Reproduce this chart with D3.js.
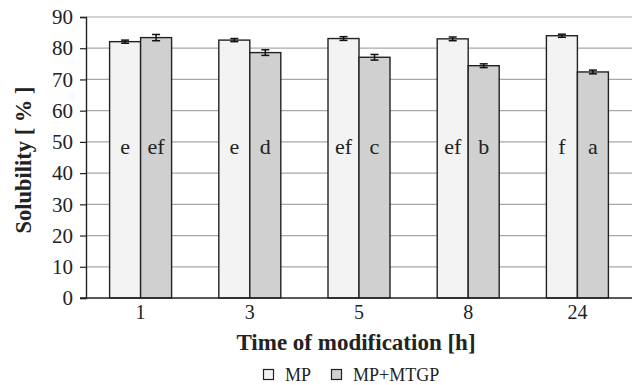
<!DOCTYPE html>
<html>
<head>
<meta charset="utf-8">
<title>solubility</title>
<script src="https://d3js.org/d3.v7.min.js"></script>
<style>
  body { margin: 0; background: #fff; }
  svg text { font-family: "Liberation Serif", "Times New Roman", serif; fill: #222; }
</style>
</head>
<body>
<svg id="chart" width="636" height="385"></svg>
<script>
var categories = ["1", "3", "5", "8", "24"]
var series = ["MP", "MP+MTGP"]
var mpValues = [82.1, 82.6, 83.1, 83.0, 84.0]
var mtgpValues = [83.4, 78.6, 77.1, 74.4, 72.4]
var mpErrors = [0.5, 0.5, 0.6, 0.6, 0.5]
var mtgpErrors = [1.0, 0.9, 0.9, 0.6, 0.6]
var mpLetters = ["e", "e", "ef", "ef", "f"]
var mtgpLetters = ["ef", "d", "c", "b", "a"]
var yTicks = [0, 10, 20, 30, 40, 50, 60, 70, 80, 90]
var colors = ["#f3f3f3", "#cfd0cf"]

var svg = d3.select("#chart")
var mLeft = 86, mRight = 632, mTop = 17, mBottom = 298
var serif = "'Liberation Serif', 'Times New Roman', serif"

var x = d3.scaleBand().domain(categories).range([mLeft, mRight])
var inner = d3.scaleBand().domain(series).range([0, 62]).padding(0)
var y = d3.scaleLinear().domain([0, 90]).range([mBottom, mTop])

// gridlines
svg.selectAll(".grid").data(yTicks.slice(1))
  .enter().append("line")
  .attr("x1", mLeft).attr("x2", mRight)
  .attr("y1", function(d) { return y(d) }).attr("y2", function(d) { return y(d) })
  .attr("stroke", "#a8a8a8").attr("stroke-width", 1.2)

var rows = categories.map(function(c, i) {
  return [
    {cat: c, s: series[0], v: mpValues[i], e: mpErrors[i], l: mpLetters[i], k: 0},
    {cat: c, s: series[1], v: mtgpValues[i], e: mtgpErrors[i], l: mtgpLetters[i], k: 1}
  ]
}).flat()

function bx(d) { return x(d.cat) + x.bandwidth() / 2 - 31 + inner(d.s) }

svg.selectAll(".bar").data(rows)
  .enter().append("rect")
  .attr("x", bx)
  .attr("y", function(d) { return y(d.v) })
  .attr("width", inner.bandwidth())
  .attr("height", function(d) { return y(0) - y(d.v) })
  .attr("fill", function(d) { return colors[d.k] })
  .attr("stroke", "#222").attr("stroke-width", 1.4)

// error bars
var eb = svg.selectAll(".err").data(rows).enter().append("g")
eb.append("line")
  .attr("x1", function(d) { return bx(d) + inner.bandwidth() / 2 })
  .attr("x2", function(d) { return bx(d) + inner.bandwidth() / 2 })
  .attr("y1", function(d) { return y(d.v + d.e) })
  .attr("y2", function(d) { return y(d.v - d.e) })
  .attr("stroke", "#111").attr("stroke-width", 1.5)
eb.selectAll(".cap").data(function(d) { return [d.v + d.e, d.v - d.e].map(function(v) { return {d: d, v: v} }) })
  .enter().append("line")
  .attr("x1", function(c) { return bx(c.d) + inner.bandwidth() / 2 - 4 })
  .attr("x2", function(c) { return bx(c.d) + inner.bandwidth() / 2 + 4 })
  .attr("y1", function(c) { return y(c.v) }).attr("y2", function(c) { return y(c.v) })
  .attr("stroke", "#111").attr("stroke-width", 1.5)

// letters
svg.selectAll(".lt").data(rows)
  .enter().append("text")
  .attr("x", function(d) { return bx(d) + inner.bandwidth() / 2 })
  .attr("y", y(50) + 12)
  .attr("text-anchor", "middle")
  .style("font-family", serif)
  .attr("font-size", 22)
  .text(function(d) { return d.l })

// axes
var yAxis = svg.append("g").attr("transform", "translate(" + mLeft + ",0)")
  .call(d3.axisLeft(y).tickValues(yTicks).tickSize(6).tickPadding(7))
yAxis.select(".domain").attr("stroke", "#222").attr("stroke-width", 1.4)
yAxis.selectAll(".tick line").attr("stroke", "#222").attr("stroke-width", 1.2)
yAxis.selectAll("text").attr("font-size", 21).style("font-family", serif).attr("fill", "#222")

svg.append("line").attr("x1", mLeft - 6).attr("x2", mRight)
  .attr("y1", mBottom).attr("y2", mBottom)
  .attr("stroke", "#222").attr("stroke-width", 1.6)

var xAxis = svg.append("g").attr("transform", "translate(0," + mBottom + ")")
  .call(d3.axisBottom(x).tickSize(0).tickPadding(7))
xAxis.select(".domain").remove()
xAxis.selectAll("text").attr("font-size", 20).style("font-family", serif).attr("fill", "#222")

// titles
svg.append("text")
  .attr("transform", "translate(31,160) rotate(-90)")
  .attr("text-anchor", "middle")
  .style("font-family", serif)
  .attr("font-size", 22.5).attr("font-weight", "bold")
  .text("Solubility [ % ]")

svg.append("text")
  .attr("x", 356).attr("y", 350)
  .attr("text-anchor", "middle")
  .style("font-family", serif)
  .attr("font-size", 23).attr("font-weight", "bold")
  .text("Time of modification [h]")

// legend
var legX = [263, 331]
var lg = svg.selectAll(".leg").data(series).enter().append("g")
  .attr("transform", function(d, i) { return "translate(" + legX[i] + ",369)" })
lg.append("rect").attr("x", 0.5).attr("y", 0.5).attr("width", 10).attr("height", 10)
  .attr("fill", function(d, i) { return colors[i] })
  .attr("stroke", "#222").attr("stroke-width", 1.2)
lg.append("text").attr("x", 22).attr("y", 12)
  .style("font-family", serif)
  .attr("font-size", 18)
  .text(function(d) { return d })
</script>
</body>
</html>
